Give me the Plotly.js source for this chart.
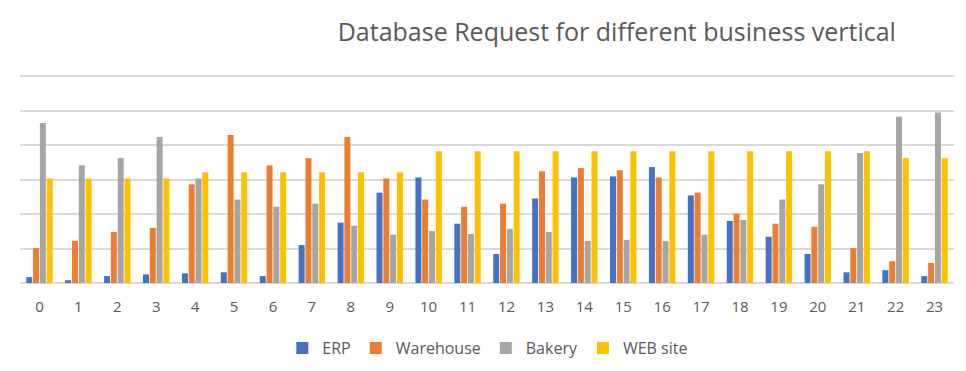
<!DOCTYPE html>
<html>
<head>
<meta charset="utf-8">
<script src="https://cdn.plot.ly/plotly-3.0.1.min.js"></script>
<style>html,body{margin:0;padding:0;background:#fff;}#chart{width:966px;height:371px;}</style>
</head>
<body>
<div id="chart"></div>
<script>
const hours = ["0","1","2","3","4","5","6","7","8","9","10","11","12","13","14","15","16","17","18","19","20","21","22","23"];
const erp = [1.7,0.8,2.0,2.5,2.8,3.1,2.0,11.0,17.5,26.2,30.6,17.2,8.4,24.5,30.6,30.9,33.6,25.4,18.0,13.4,8.4,3.1,3.7,2.0];
const warehouse = [10.1,12.2,14.8,16.0,28.6,42.9,34.1,36.2,42.3,30.3,24.2,22.1,23.0,32.4,33.3,32.7,30.6,26.2,20.1,17.2,16.3,10.1,6.3,5.8];
const bakery = [46.4,34.1,36.2,42.3,30.3,24.2,22.1,23.0,16.6,14.0,15.1,14.2,15.7,14.8,12.2,12.5,12.2,14.0,18.3,24.2,28.6,37.7,48.2,49.4];
const website = [30.3,30.3,30.3,30.3,32.1,32.1,32.1,32.1,32.1,32.1,38.2,38.2,38.2,38.2,38.2,38.2,38.2,38.2,38.2,38.2,38.2,38.2,36.2,36.2];
const seriesNames = ["ERP","Warehouse","Bakery","WEB site"];
const colors = ["#4472C4","#ED7D31","#A5A5A5","#FFC000"];
const values = [erp, warehouse, bakery, website];

const traces = values.map((v,i)=>({
  type:'bar', x:hours, y:v, name:seriesNames[i],
  marker:{color:colors[i], line:{width:0}}, hoverinfo:'none'
}));

const font = "Open Sans, Noto Sans, sans-serif";
const layout = {
  width:966, height:371,
  margin:{l:20, r:12, t:75, b:88, pad:0, autoexpand:false},
  paper_bgcolor:'#fff', plot_bgcolor:'#fff',
  barmode:'group', bargap:0.3, bargroupgap:0.12,
  title:{text:"Database Request for different business vertical", x:0.639, xanchor:'center', y:0.913, yanchor:'middle', xref:'paper', yref:'container',
    font:{family:font, size:25, color:'#595959'}},
  xaxis:{type:'category', showgrid:false, zeroline:false, showline:false, automargin:false,
    ticks:'outside', ticklen:10, tickcolor:'rgba(0,0,0,0)',
    tickfont:{family:font, size:15, color:'#595959'}},
  yaxis:{range:[0,60.3], tickvals:[0,10,20,30,40,50,60], showgrid:true, gridcolor:'#D9D9D9', gridwidth:2, automargin:false,
    zeroline:true, zerolinecolor:'#D9D9D9', zerolinewidth:2, showticklabels:false, ticks:''},
  showlegend:true,
  legend:{orientation:'h', x:0.505, xanchor:'center', xref:'container', y:0.062, yanchor:'middle', yref:'container',
    font:{family:font, size:16, color:'#595959'}, itemwidth:30, traceorder:'normal'}
};
Plotly.newPlot('chart', traces, layout, {displayModeBar:false, staticPlot:true});
</script>
</body>
</html>
